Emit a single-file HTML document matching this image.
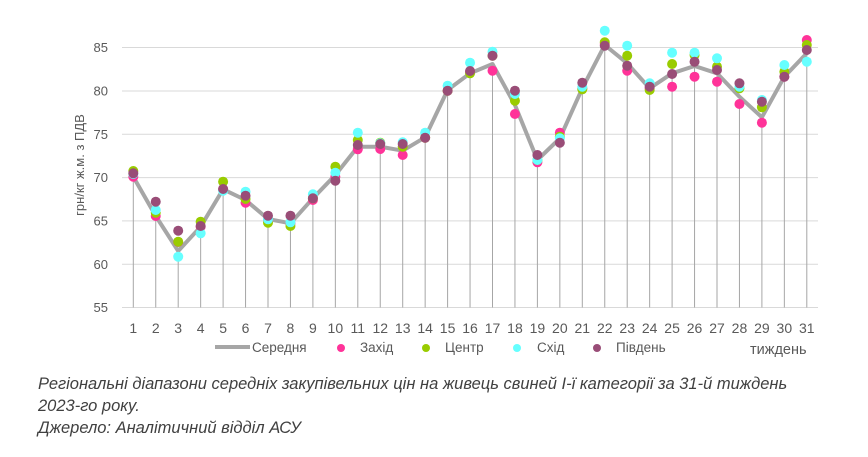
<!DOCTYPE html>
<html><head><meta charset="utf-8"><style>
body{margin:0;background:#fff;}
svg{display:block;font-family:"Liberation Sans",sans-serif;}
.cap{font-style:italic;fill:#404040;font-size:16.5px;}
</style></head><body>
<svg width="868" height="457" viewBox="0 0 868 457">
<g stroke="#d9d9d9" stroke-width="1">
<line x1="122" x2="818" y1="47.5" y2="47.5"/>
<line x1="122" x2="818" y1="91" y2="91"/>
<line x1="122" x2="818" y1="134.3" y2="134.3"/>
<line x1="122" x2="818" y1="177.6" y2="177.6"/>
<line x1="122" x2="818" y1="220.9" y2="220.9"/>
<line x1="122" x2="818" y1="264.2" y2="264.2"/>
<line x1="122" x2="818" y1="307.5" y2="307.5"/>
</g>
<g fill="#595959" font-size="13" text-anchor="end">
<text x="108" y="52">85</text><text x="108" y="95.5">80</text><text x="108" y="139">75</text><text x="108" y="182">70</text><text x="108" y="225.5">65</text><text x="108" y="269">60</text><text x="108" y="312">55</text>
</g>
<text transform="translate(84,165) rotate(-90)" text-anchor="middle" fill="#595959" font-size="13">грн/кг ж.м. з ПДВ</text>
<g id="drops" stroke="#a6a6a6" stroke-width="1"></g>
<polyline id="avg" fill="none" stroke="#a6a6a6" stroke-width="4" stroke-linejoin="round"/>
<g id="dots"></g>
<g id="xl" fill="#595959" font-size="14" text-anchor="middle"></g>
<line x1="215" x2="250" y1="347" y2="347" stroke="#a6a6a6" stroke-width="4"/>
<g font-size="13.5" fill="#595959">
<text x="252" y="352">Середня</text>
<circle cx="341" cy="348" r="4" fill="#ff3399"/><text x="360" y="352">Захід</text>
<circle cx="426" cy="348" r="4" fill="#99cc00"/><text x="445" y="352">Центр</text>
<circle cx="517" cy="348" r="4" fill="#66ffff"/><text x="537" y="352">Схід</text>
<circle cx="597" cy="348" r="4" fill="#994d77"/><text x="616" y="352">Південь</text>
<text x="750" y="354" font-size="14.5">тиждень</text>
</g>
<text class="cap" x="38" y="389">Регіональні діапазони середніх закупівельних цін на живець свиней І-ї категорії за 31-й тиждень</text>
<text class="cap" x="38" y="411">2023-го року.</text>
<text class="cap" x="38" y="433">Джерело: Аналітичний відділ АСУ</text>
</svg>
<script>
var avg=[176.7,216,251,226.7,189.3,200,219,223.3,198.3,175,146.7,146.7,150.7,137.3,90,73.3,64,105,160,138.3,88.3,45,63.3,88.3,73.3,66,73.3,96.7,117.3,76.7,53.3];
var pink=[176.7,216,242,226.7,189,202.7,220,223.3,200,176.7,149.3,149,155,137.7,90.7,71.7,70.7,114,162.3,132.7,88.3,44,70.7,88.3,86.7,76.7,81.7,104,122.7,76.7,40];
var green=[171,212.7,241.7,221.7,181.7,199,222.7,226,198.3,166.7,140,142.7,146.7,137.7,90.7,73.3,55.7,100.7,160,136.7,89.3,42.3,55.7,90,64,55,66.7,88.3,107.3,71.7,45];
var cyan=[174,210,256.7,233.3,190.7,191.7,219.3,222.3,194.3,172.7,132.7,143.3,142.3,132.7,85.7,62.7,51.7,94,160,138.3,86.7,30.7,45.7,83.3,52.7,52.7,58.3,86.7,100,65,61.7];
var purp=[173.3,201.7,230.7,226,189,195.7,215.7,215.7,198.3,180.7,145,144,144,137.7,90.7,71,55.7,90.7,155,142.7,82.7,45.7,65.7,86.7,74,61.7,70,83.3,101.7,76.7,50];
var NS="http://www.w3.org/2000/svg";
function X(i){return 133.3+i*22.45;}
var d=document.getElementById('drops'),dots=document.getElementById('dots'),xl=document.getElementById('xl'),pts=[];
for(var i=0;i<31;i++){
 var l=document.createElementNS(NS,'line');l.setAttribute('x1',X(i));l.setAttribute('x2',X(i));l.setAttribute('y1',avg[i]);l.setAttribute('y2',307.5);d.appendChild(l);
 pts.push(X(i)+','+avg[i]);
 var t=document.createElementNS(NS,'text');t.setAttribute('x',X(i));t.setAttribute('y',333);t.textContent=i+1;xl.appendChild(t);
}
document.getElementById('avg').setAttribute('points',pts.join(' '));
[[pink,'#ff3399'],[green,'#99cc00'],[cyan,'#66ffff'],[purp,'#994d77']].forEach(function(s){
 for(var i=0;i<31;i++){var c=document.createElementNS(NS,'circle');c.setAttribute('cx',X(i));c.setAttribute('cy',s[0][i]);c.setAttribute('r',5);c.setAttribute('fill',s[1]);dots.appendChild(c);}
});
</script>
</body></html>
